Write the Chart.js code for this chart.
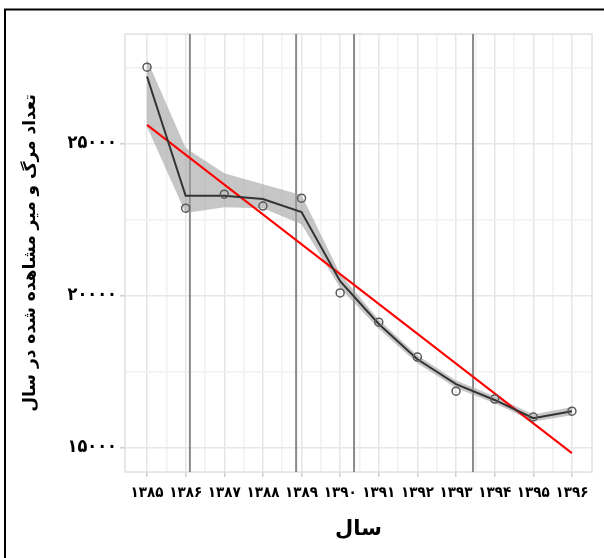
<!DOCTYPE html>
<html>
<head>
<meta charset="utf-8">
<script src="https://cdn.jsdelivr.net/npm/chart.js@4"></script>
<style>
  html, body { margin: 0; padding: 0; background: #fff; }
  #wrap { width: 604px; height: 558px; }
</style>
</head>
<body>
<div id="wrap"><canvas id="my-chart" width="604" height="558"></canvas></div>
<script>
'use strict';

// ******* DATA *******
let years = [1385, 1386, 1387, 1388, 1389, 1390, 1391, 1392, 1393, 1394, 1395, 1396];
let observed = [27510, 22870, 23330, 22940, 23200, 20080, 19120, 17970, 16850, 16590, 16000, 16190];
let smoothed = [27200, 23280, 23280, 23170, 22740, 20470, 19060, 17900, 17080, 16560, 15960, 16190];
let bandUpper = [27750, 24850, 24020, 23660, 23300, 20700, 19200, 18030, 17200, 16680, 16080, 16330];
let bandLower = [25550, 22710, 22900, 22870, 22340, 20240, 18900, 17770, 16950, 16450, 15850, 16060];
let trendYears = [1385, 1396];
let trendValues = [25610, 14810];
let eventYears = [1386.11, 1388.86, 1390.36, 1393.44];
let yTicks = [15000, 17500, 20000, 22500, 25000, 27500];
let xTicks = [];
for (let i = 0; i < years.length; i++) {
  xTicks.push(years[i]);
  if (i < years.length - 1) xTicks.push(years[i] + 0.5);
}

let yTitle = 'تعداد مرگ و میر مشاهده شده در سال';
let xTitle = 'سال';

// ******* HELPERS *******
function toFa(n) {
  return String(n).replace(/\d/g, function (d) { return '۰۱۲۳۴۵۶۷۸۹'[d]; });
}

function pairs(xs, ys) {
  let out = [];
  for (let i = 0; i < xs.length; i++) out.push({ x: xs[i], y: ys[i] });
  return out;
}

let fontFamily = '"DejaVu Sans", sans-serif';
let tickFamily = '"DejaVu Sans Condensed", "DejaVu Sans", sans-serif';

// frame, panel border and the dark vertical lines
let decorPlugin = {
  id: 'decor',
  beforeDraw(chart) {
    let ctx = chart.ctx;
    ctx.save();
    ctx.fillStyle = '#fff';
    ctx.fillRect(0, 0, chart.width, chart.height);
    ctx.strokeStyle = '#000';
    ctx.lineWidth = 2;
    ctx.beginPath();
    ctx.moveTo(5, chart.height);
    ctx.lineTo(5, 9.5);
    ctx.lineTo(chart.width, 9.5);
    ctx.stroke();
    ctx.restore();
  },
  beforeDatasetsDraw(chart) {
    let ctx = chart.ctx;
    let area = chart.chartArea;
    let xScale = chart.scales.x;
    ctx.save();
    ctx.strokeStyle = '#e0e0e0';
    ctx.lineWidth = 1.5;
    ctx.strokeRect(area.left, area.top, area.right - area.left, area.bottom - area.top);
    ctx.strokeStyle = '#8a8a8a';
    ctx.lineWidth = 2;
    for (let i = 0; i < eventYears.length; i++) {
      let px = xScale.getPixelForValue(eventYears[i]);
      ctx.beginPath();
      ctx.moveTo(px, area.top);
      ctx.lineTo(px, area.bottom);
      ctx.stroke();
    }
    ctx.restore();
  }
};

let canvasElem = document.getElementById('my-chart').getContext('2d');

let myChartObj = {
  type: 'line',
  data: {
    datasets: [
      {
        data: pairs(years, observed),
        showLine: false,
        pointRadius: 4,
        pointBorderWidth: 1.5,
        pointBorderColor: '#5a5a5a',
        pointBackgroundColor: 'rgba(0,0,0,0)',
        order: 0
      },
      {
        data: pairs(years, smoothed),
        borderColor: '#333',
        borderWidth: 2,
        pointRadius: 0,
        tension: 0,
        fill: false,
        order: 1
      },
      {
        data: pairs(trendYears, trendValues),
        borderColor: '#ff0000',
        borderWidth: 2,
        pointRadius: 0,
        fill: false,
        order: 2
      },
      {
        data: pairs(years, bandLower),
        borderWidth: 0,
        borderColor: 'rgba(0,0,0,0)',
        pointRadius: 0,
        fill: false,
        order: 4
      },
      {
        data: pairs(years, bandUpper),
        borderWidth: 0,
        borderColor: 'rgba(0,0,0,0)',
        backgroundColor: 'rgba(160,160,160,0.6)',
        pointRadius: 0,
        fill: '-1',
        order: 3
      }
    ]
  },
  options: {
    responsive: false,
    animation: false,
    layout: { padding: { top: 34, right: 12, left: 0, bottom: 0 } },
    plugins: {
      legend: { display: false },
      tooltip: { enabled: false }
    },
    scales: {
      x: {
        type: 'linear',
        min: 1384.43,
        max: 1396.52,
        afterBuildTicks(axis) { axis.ticks = xTicks.map(function (v) { return { value: v }; }); },
        afterFit(axis) { axis.height = 86; },
        grid: {
          color(ctx) { return ctx.tick && ctx.tick.value % 1 === 0 ? '#e6e6e6' : '#f1f1f1'; },
          lineWidth: 1.5,
          tickColor(ctx) { return ctx.tick && ctx.tick.value % 1 === 0 ? '#cfcfcf' : 'rgba(0,0,0,0)'; },
          tickLength: 5
        },
        border: { display: false },
        ticks: {
          autoSkip: false,
          maxRotation: 0,
          padding: 7,
          color: '#000',
          font: { family: tickFamily, size: 15, weight: 'bold' },
          callback(v) { return v % 1 === 0 ? toFa(v) : ''; }
        },
        title: {
          display: true,
          text: xTitle,
          color: '#000',
          font: { family: fontFamily, size: 21, weight: 'bold' },
          padding: { top: 0, bottom: 16 }
        }
      },
      y: {
        min: 14190,
        max: 28600,
        afterBuildTicks(axis) { axis.ticks = yTicks.map(function (v) { return { value: v }; }); },
        afterFit(axis) { axis.width = 125; },
        grid: {
          color(ctx) { return ctx.tick && ctx.tick.value % 5000 === 0 ? '#e6e6e6' : '#f1f1f1'; },
          lineWidth: 1.5,
          tickColor(ctx) { return ctx.tick && ctx.tick.value % 5000 === 0 ? '#cfcfcf' : 'rgba(0,0,0,0)'; },
          tickLength: 5
        },
        border: { display: false },
        ticks: {
          padding: 3,
          color: '#000',
          font: { family: tickFamily, size: 18, weight: 'bold' },
          callback(v) { return v % 5000 === 0 ? toFa(v) : ''; }
        },
        title: {
          display: true,
          text: yTitle,
          color: '#000',
          font: { family: fontFamily, size: 17, weight: 'bold' },
          padding: { top: 20, bottom: 0 }
        }
      }
    }
  },
  plugins: [decorPlugin]
};

new Chart(canvasElem, myChartObj);
</script>
</body>
</html>
